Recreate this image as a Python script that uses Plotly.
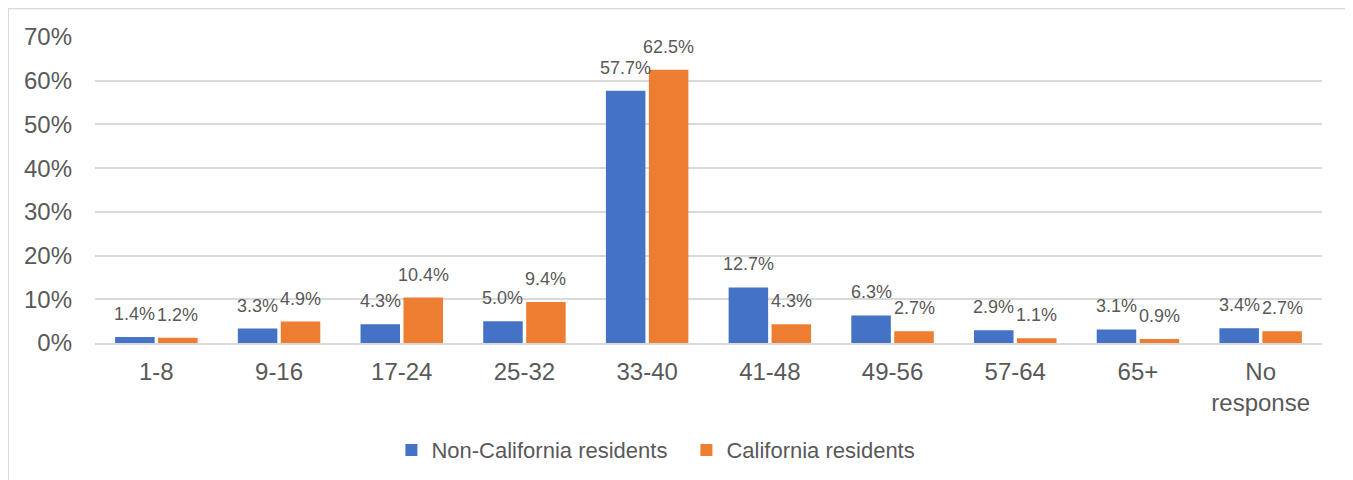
import plotly.graph_objects as go

categories = ["1-8", "9-16", "17-24", "25-32", "33-40", "41-48", "49-56", "57-64", "65+", "No<br>response"]
non_ca = [1.4, 3.3, 4.3, 5.0, 57.7, 12.7, 6.3, 2.9, 3.1, 3.4]
ca = [1.2, 4.9, 10.4, 9.4, 62.5, 4.3, 2.7, 1.1, 0.9, 2.7]
series_names = ["Non-California residents", "California residents"]
colors = ["#4472C4", "#ED7D31"]
y_ticks = [0, 10, 20, 30, 40, 50, 60, 70]

font_family = "Liberation Sans, Arial, sans-serif"
gray = "#595959"

# figure geometry (browser body adds 8px offset)
W, H = 1345, 472
ML, MR, MT, MB = 87, 31, 29, 137
BARGAP, GROUPGAP = 0.3, 0.08

plot_w = W - ML - MR
cat_w = plot_w / len(categories)
slot_w = cat_w * (1 - BARGAP) / 2

fig = go.Figure()
annotations = []
for i, (name, vals, col) in enumerate(zip(series_names, [non_ca, ca], colors)):
    fig.add_trace(go.Bar(
        x=categories, y=vals, name=name,
        marker=dict(color=col, line=dict(width=0)),
    ))
    xs = (i - 0.5) * slot_w
    for c, v in zip(categories, vals):
        annotations.append(dict(
            x=c, y=v, xref="x", yref="y", text=f"{v:.1f}%", showarrow=False,
            xanchor="center", yanchor="bottom", xshift=xs, yshift=11,
            font=dict(family=font_family, size=18, color=gray),
        ))

fig.update_layout(
    width=W, height=H,
    margin=dict(l=ML, r=MR, t=MT, b=MB, autoexpand=False),
    paper_bgcolor="white", plot_bgcolor="white",
    barmode="group", bargap=BARGAP, bargroupgap=GROUPGAP,
    font=dict(family=font_family, size=22, color=gray),
    showlegend=True,
    legend=dict(orientation="h", x=0.482, xanchor="center", y=-0.35, yanchor="middle",
                font=dict(size=22, color=gray), itemwidth=30, traceorder="normal",
                entrywidth=250, entrywidthmode="pixels"),
    xaxis=dict(showgrid=False, showline=True, linecolor="#D9D9D9", linewidth=2,
               ticks="", tickfont=dict(size=24, color=gray), ticklabelstandoff=6),
    yaxis=dict(range=[0, 70], tickvals=y_ticks, ticktext=[f"{t}%" for t in y_ticks],
               showgrid=True, gridcolor="#D9D9D9", gridwidth=2, zeroline=False,
               showline=False, ticks="", tickfont=dict(size=24, color=gray),
               ticklabelstandoff=22),
    annotations=annotations,
    shapes=[dict(type="rect", xref="paper", yref="paper",
                 x0=-0.0709, x1=1.0228, y0=-0.47, y1=1.094,
                 line=dict(color="#D9D9D9", width=2), fillcolor="rgba(0,0,0,0)",
                 layer="below")],
)

fig.write_html("out.html")
